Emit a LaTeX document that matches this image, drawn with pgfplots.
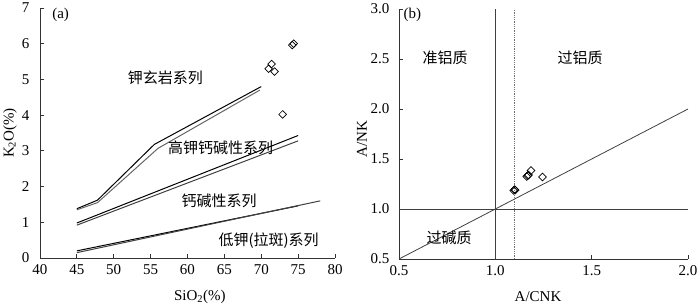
\documentclass[border=0pt]{standalone}
\usepackage{fontspec}
\setmainfont{Liberation Serif}
\newfontfamily\cjk{Noto Sans CJK SC}
\usepackage{pgfplots}
\pgfplotsset{compat=1.18}
\pgfplotsset{
  myax/.style={
    scale only axis, anchor=south west,
    axis lines*=left, tick align=inside,
    major tick length=4pt,
    axis line style={line width=0.8pt, black!80},
    every tick/.style={line width=0.8pt, black!80},
    /pgf/number format/assume math mode=true,
    font=\fontsize{15}{17}\selectfont,
    tick label style={font=\fontsize{15}{17}\selectfont},
    label style={font=\fontsize{15}{17}\selectfont},
    xticklabel style={yshift=-3pt},
    clip=false,
  },
  dia/.style={only marks, mark=square, mark size=2.7pt, black,
    mark options={rotate=45, line width=0.7pt, fill=none}},
}
\begin{document}
\begin{tikzpicture}[x=1pt,y=1pt]
\path[use as bounding box] (0,0) rectangle (700,307);
% ---------- (a) ----------
\begin{axis}[myax, at={(40pt,49pt)}, width=295pt, height=250pt,
  xmin=40, xmax=80, ymin=0, ymax=7,
  xtick={40,45,...,80}, ytick={0,...,7},
  xlabel={SiO\textsubscript{2}(\%)},
  ylabel={K\textsubscript{2}O(\%)},
  xlabel style={at={(axis description cs:0.542,-0.155)}, anchor=center},
  ylabel style={at={(axis description cs:-0.102,0.5)}, anchor=center, rotate=0},
  yticklabel style={xshift=-7pt},
]
\addplot[black, line width=1pt] coordinates {(45,1.38)(47.8,1.62)(55.5,3.18)(70,4.80)};
\addplot[black!60, line width=1pt] coordinates {(45,1.35)(47.8,1.55)(56,3.07)(69.8,4.70)};
\addplot[black, line width=1pt] coordinates {(45,0.98)(75,3.43)};
\addplot[black!75, line width=1pt] coordinates {(45,0.92)(75,3.28)};
\addplot[black, line width=1pt] coordinates {(45,0.20)(75,1.46)};
\addplot[black!75, line width=1pt] coordinates {(45,0.15)(78,1.60)};
\addplot[dia] coordinates {(71.0,5.30)(71.4,5.43)(71.8,5.22)(72.9,4.02)(74.2,5.96)(74.4,6.00)};
\node[font=\fontsize{15}{17}\selectfont] at (axis cs:42.8,6.8) {(a)};
\node[font=\cjk\fontsize{15}{17}\selectfont] at (axis cs:57,5.04) {钾玄岩系列};
\node[font=\cjk\fontsize{15}{17}\selectfont] at (axis cs:64.5,3.08) {高钾钙碱性系列};
\node[font=\cjk\fontsize{15}{17}\selectfont] at (axis cs:64.3,1.60) {钙碱性系列};
\node[font=\cjk\fontsize{15}{17}\selectfont] at (axis cs:71,0.48) {低钾(拉斑)系列};
\end{axis}
% ---------- (b) ----------
\begin{axis}[myax, at={(399pt,48pt)}, width=289pt, height=250pt,
  xmin=0.5, xmax=2.0, ymin=0.5, ymax=3.0,
  xtick={0.5,1.0,1.5,2.0}, ytick={0.5,1.0,...,3.0},
  xticklabel style={/pgf/number format/.cd, fixed, fixed zerofill, precision=1},
  yticklabel style={xshift=-6pt, /pgf/number format/.cd, fixed, fixed zerofill, precision=1},
  xlabel={A/CNK}, ylabel={A/NK},
  xlabel style={at={(axis description cs:0.481,-0.150)}, anchor=center},
  ylabel style={at={(axis description cs:-0.128,0.48)}, anchor=center},
]
\addplot[black!75, line width=0.8pt] coordinates {(0.5,0.5)(2.0,2.0)};
\addplot[black!75, line width=0.8pt] coordinates {(0.5,1.0)(2.0,1.0)};
\addplot[black!75, line width=0.8pt] coordinates {(1.0,0.5)(1.0,3.0)};
\addplot[black!55, line width=0.8pt, densely dotted] coordinates {(1.1,0.5)(1.1,3.0)};
\addplot[dia] coordinates {(1.095,1.185)(1.100,1.195)(1.103,1.188)(1.163,1.325)(1.168,1.335)(1.172,1.340)(1.185,1.385)(1.245,1.320)};
\node[font=\fontsize{15}{17}\selectfont] at (axis cs:0.57,2.94) {(b)};
\node[font=\cjk\fontsize{15}{17}\selectfont] at (axis cs:0.74,2.51) {准铝质};
\node[font=\cjk\fontsize{15}{17}\selectfont] at (axis cs:1.44,2.51) {过铝质};
\node[font=\cjk\fontsize{15}{17}\selectfont] at (axis cs:0.76,0.71) {过碱质};
\end{axis}
\end{tikzpicture}
\end{document}
